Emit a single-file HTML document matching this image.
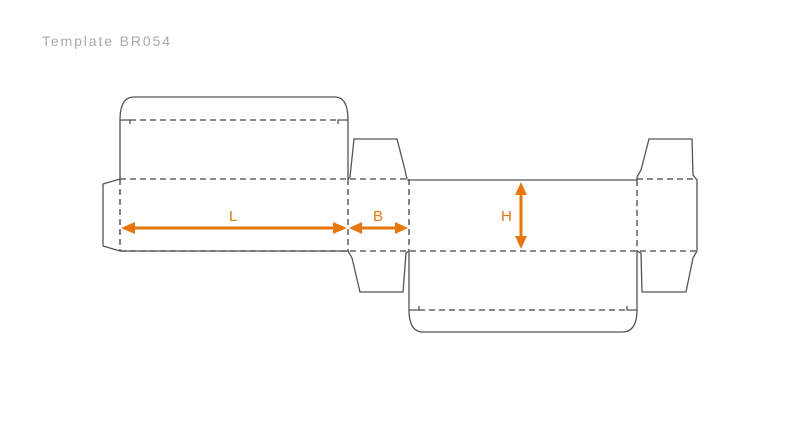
<!DOCTYPE html>
<html><head><style>html,body{margin:0;padding:0;background:#fff;}svg{display:block}</style></head>
<body>
<svg width="800" height="431" viewBox="0 0 800 431" xmlns="http://www.w3.org/2000/svg">
<text x="42" y="46" font-family="Liberation Sans, sans-serif" font-size="14" fill="#aaaaaa" textLength="128" lengthAdjust="spacing">Template BR054</text>
<g fill="none" stroke="#555" stroke-width="1.3">
  <path d="M120,179 L120,120 Q120,97 134,97 L335,97 Q348,97 348,120 L348,179"/>
  <path d="M120,120 L130,120 L130,124 M348,120 L338,120 L338,124"/>
  <path d="M120,251 L348,251"/>
  <path d="M120,179 L103,184 L103,246 L120,251"/>
  <path d="M348,179 L350,177 L354,139 L397,139 L405,170 L407,179"/>
  <path d="M348,251 L352,258 L360,292 L403,292 L406,253 L409,251"/>
  <path d="M407,180 L637,180"/>
  <path d="M409,251 L409,310 Q409,332 423,332 L622,332 Q637,332 637,310 L637,251"/>
  <path d="M409,310 L419,310 L419,306 M637,310 L627,310 L627,306"/>
  <path d="M637,180 L637,177 L641,170 L649,139 L692,139 L693,175 L697,180 L697,251 L693,258 L686,292 L642,292 L641,253 L637,251"/>
</g>
<g fill="none" stroke="#444" stroke-width="1.3" stroke-dasharray="6,4">
  <path d="M130,120 L338,120"/>
  <path d="M120,179 L409,179"/>
  <path d="M637,179 L697,179"/>
  <path d="M120,251 L697,251"/>
  <path d="M120,179 L120,251"/>
  <path d="M348,179 L348,251"/>
  <path d="M409,179 L409,251"/>
  <path d="M637,180 L637,251"/>
  <path d="M419,310 L627,310"/>
</g>
<g stroke="#e8760e" stroke-width="3" fill="#e8760e">
  <line x1="132" y1="228" x2="336" y2="228"/>
  <polygon points="121,228 135,222 135,234" stroke="none"/>
  <polygon points="347,228 333,222 333,234" stroke="none"/>
  <line x1="360" y1="228" x2="397" y2="228"/>
  <polygon points="349,228 362,222 362,234" stroke="none"/>
  <polygon points="408,228 395,222 395,234" stroke="none"/>
  <line x1="521" y1="193" x2="521" y2="237"/>
  <polygon points="521,182 515,195 527,195" stroke="none"/>
  <polygon points="521,249 515,236 527,236" stroke="none"/>
</g>
<g font-family="Liberation Sans, sans-serif" font-size="15" fill="#e8760e">
  <text x="229" y="221">L</text>
  <text x="373" y="221">B</text>
  <text x="501" y="221">H</text>
</g>
</svg>
</body></html>
